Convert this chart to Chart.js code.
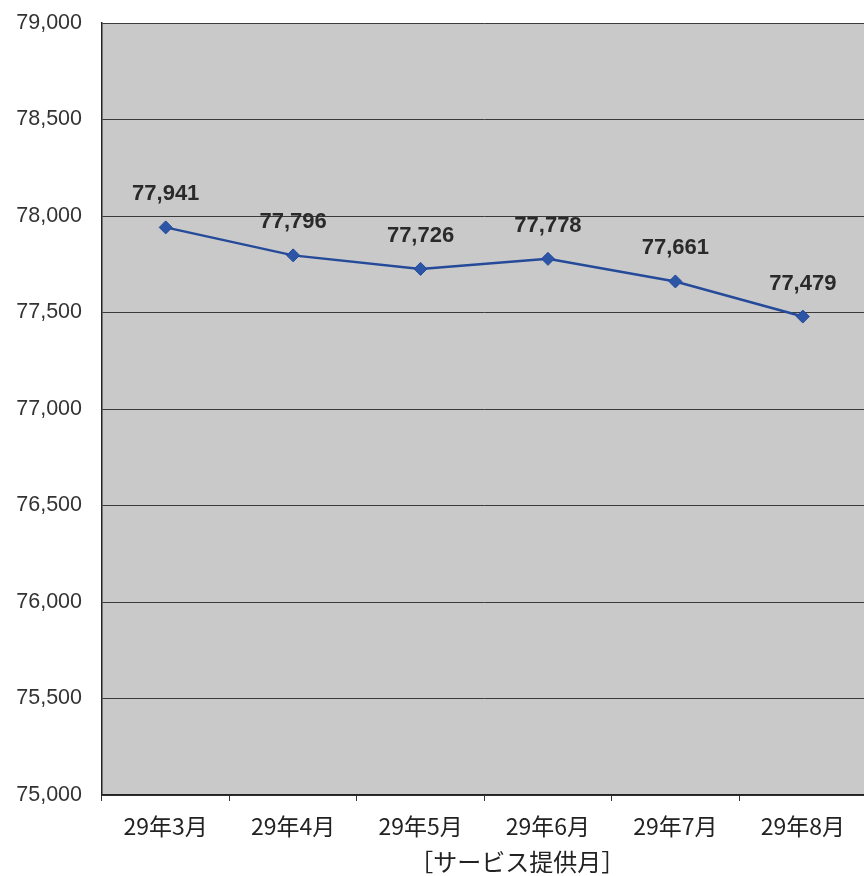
<!DOCTYPE html>
<html><head><meta charset="utf-8">
<script src="https://cdn.jsdelivr.net/npm/chart.js@4/dist/chart.umd.min.js"></script>
<style>html,body{margin:0;padding:0;background:#fff;overflow:hidden;width:864px;height:876px}#wrap{width:874px;height:876px;position:relative}</style>
</head><body><div id="wrap"><canvas id="c" width="874" height="876"></canvas></div>
<script>
const categories = ['29年3月','29年4月','29年5月','29年6月','29年7月','29年8月'];
const values = [77941, 77796, 77726, 77778, 77661, 77479];
const yMin = 75000, yMax = 79000, yStep = 500;
const xTitle = '［サービス提供月］';

const bgPlugin = {
  id: 'bg',
  beforeDraw(chart) {
    const {ctx, chartArea: a} = chart;
    ctx.save();
    ctx.fillStyle = '#c9c9c9';
    ctx.fillRect(a.left, a.top, a.right - a.left, a.bottom - a.top);
    ctx.restore();
  }
};
const labelPlugin = {
  id: 'lbl',
  afterDatasetsDraw(chart) {
    const {ctx, chartArea: a} = chart;
    const meta = chart.getDatasetMeta(0);
    ctx.save();
    ctx.font = 'bold 22px "Liberation Sans", Arial, sans-serif';
    ctx.fillStyle = '#2a2a2a';
    ctx.textAlign = 'center';
    ctx.textBaseline = 'middle';
    meta.data.forEach((p, i) => {
      ctx.fillText(values[i].toLocaleString('en-US'), p.x, p.y - 33);
    });
    // axis title
    ctx.font = '24px "Noto Sans CJK JP", sans-serif';
    ctx.fillStyle = '#222';
    ctx.fillText(xTitle, (a.left + a.right) / 2 + 33, a.bottom + 67);
    ctx.restore();
  }
};

new Chart(document.getElementById('c'), {
  type: 'line',
  data: {
    labels: categories,
    datasets: [{
      data: values,
      borderColor: '#254a9a',
      backgroundColor: '#2d55a5',
      borderWidth: 2.5,
      pointStyle: 'rectRot',
      pointRadius: 6.5,
      pointBorderWidth: 1,
      pointBorderColor: '#254a9a',
      tension: 0
    }]
  },
  options: {
    responsive: false,
    animation: false,
    layout: {padding: {top: 23, right: 0, left: 0, bottom: 0}},
    plugins: {legend: {display: false}, tooltip: {enabled: false}},
    scales: {
      x: {
        offset: true,
        grid: {offset: true, drawOnChartArea: false, drawTicks: true, tickLength: 6, color: '#333'},
        border: {display: true, color: '#222', width: 1.5},
        ticks: {font: {family: '"Noto Sans CJK JP", sans-serif', size: 23}, color: '#222', padding: 11},
        afterFit(s) { s.height = 81; s.paddingLeft = 0; s.paddingRight = 0; }
      },
      y: {
        min: yMin, max: yMax,
        ticks: {stepSize: yStep, font: {family: '"Liberation Sans", Arial, sans-serif', size: 21.5}, color: '#333', padding: 20,
          callback: v => v.toLocaleString('en-US')},
        grid: {color: '#3a3a3a', lineWidth: 1, drawTicks: false},
        border: {display: true, color: '#222', width: 1.5},
        afterFit(s) { s.width = 102; s.paddingTop = 0; s.paddingBottom = 0; }
      }
    }
  },
  plugins: [bgPlugin, labelPlugin]
});
</script></body></html>
